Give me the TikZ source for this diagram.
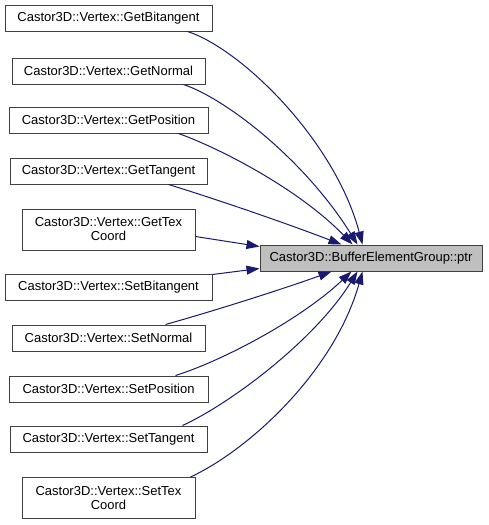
\documentclass[tikz,border=0pt]{standalone}
\usepackage{fontspec}
\setmainfont{Liberation Sans}
\usetikzlibrary{arrows.meta}
\definecolor{edgeblue}{HTML}{191970}
\definecolor{boxline}{HTML}{404040}
\definecolor{tgtfill}{HTML}{BFBFBF}
\tikzset{
  fn/.style={draw=boxline, line width=1pt, fill=white, inner sep=0pt, align=center,
    font=\fontsize{13}{14}\selectfont},
  tgtbox/.style={fn, fill=tgtfill},
  call/.style={draw=edgeblue, line width=1pt, -{Triangle[length=13pt,width=9pt]}, fill=none}
}
\begin{document}
\begin{tikzpicture}[x=1pt,y=-1pt]
\useasboundingbox[fill=white] (0,0) rectangle (488,525);
\node[tgtbox, minimum width=222pt, minimum height=26pt] (tgt) at (371,258) {Castor3D::BufferElementGroup::ptr};
\node[fn, minimum width=207pt, minimum height=26pt] (n1) at (108.5,18) {Castor3D::Vertex::GetBitangent};
\node[fn, minimum width=193pt, minimum height=26pt] (n2) at (108.5,71) {Castor3D::Vertex::GetNormal};
\node[fn, minimum width=199pt, minimum height=26pt] (n3) at (108.5,120) {Castor3D::Vertex::GetPosition};
\node[fn, minimum width=197pt, minimum height=26pt] (n4) at (108.5,171) {Castor3D::Vertex::GetTangent};
\node[fn, minimum width=173pt, minimum height=41pt] (n5) at (108.5,229.5) {Castor3D::Vertex::GetTex\\Coord};
\node[fn, minimum width=207pt, minimum height=26pt] (n6) at (108.5,287) {Castor3D::Vertex::SetBitangent};
\node[fn, minimum width=193pt, minimum height=26pt] (n7) at (108.5,338) {Castor3D::Vertex::SetNormal};
\node[fn, minimum width=199pt, minimum height=26pt] (n8) at (108.5,389) {Castor3D::Vertex::SetPosition};
\node[fn, minimum width=197pt, minimum height=26pt] (n9) at (108.5,439) {Castor3D::Vertex::SetTangent};
\node[fn, minimum width=173pt, minimum height=41pt] (n10) at (108.5,498) {Castor3D::Vertex::SetTex\\Coord};

\draw[call] ([xshift=-25pt]n1.south east) .. controls +(53,17) and +(-28,-105) .. ([xshift=103pt]tgt.north west);
\draw[call] ([xshift=-22pt]n2.south east) .. controls +(42,14) and +(-53,-85) .. ([xshift=98pt]tgt.north west);
\draw[call] ([xshift=-30pt]n3.south east) .. controls +(42,15) and +(-53,-55) .. ([xshift=93pt]tgt.north west);
\draw[call] ([xshift=-39pt]n4.south east) .. controls +(52,16) and +(-52,-20) .. ([xshift=82pt]tgt.north west);
\draw[call] ([yshift=-7pt]n5.east) -- ([yshift=-2pt]tgt.north west);
\draw[call] ([yshift=-1pt]n6.north east) -- ([yshift=3pt]tgt.south west);
\draw[call] ([xshift=-40pt]n7.north east) .. controls +(50,-14) and +(-47,17) .. ([xshift=72pt]tgt.south west);
\draw[call] ([xshift=-33pt]n8.north east) .. controls +(45,-14) and +(-52,49) .. ([xshift=92pt]tgt.south west);
\draw[call] ([xshift=-25pt]n9.north east) .. controls +(48,-22) and +(-43,69) .. ([xshift=98pt]tgt.south west);
\draw[call] ([xshift=-5pt]n10.north east) .. controls +(60,-28) and +(-28,99) .. ([xshift=103pt]tgt.south west);
\end{tikzpicture}
\end{document}
